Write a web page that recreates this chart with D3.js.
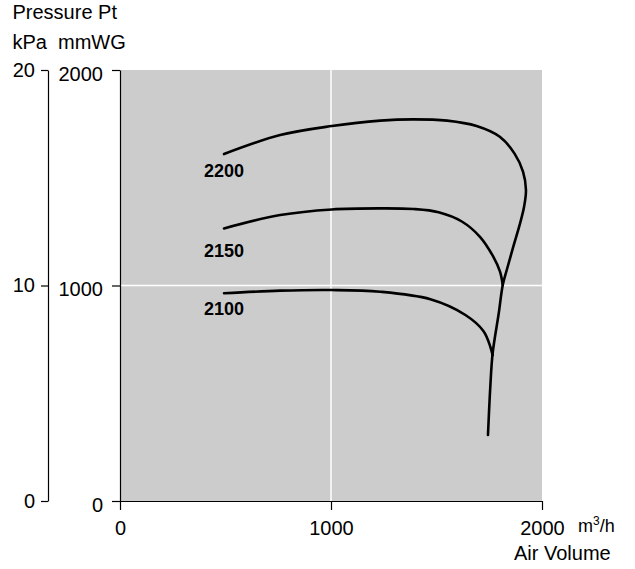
<!DOCTYPE html>
<html>
<head>
<meta charset="utf-8">
<script src="https://cdn.jsdelivr.net/npm/d3@7"></script>
<style>
  body { margin: 0; background: #fff; }
  svg { display: block; font-family: "Liberation Sans", Arial, sans-serif; }
  .axis text { font-size: 20px; fill: #000; }
  .axis path, .axis line { stroke: #000; stroke-width: 1.2; }
  .curve { fill: none; stroke: #000; stroke-width: 2.6; stroke-linejoin: round; stroke-linecap: round; }
</style>
</head>
<body>
<div id="chart"></div>
<script>
// air volume (m3/h) and pressure (mmWG)
var speeds = ["2200", "2150", "2100"];

var vol2200 = [493, 759, 1004, 1233, 1390, 1550, 1690, 1800, 1870, 1910, 1924, 1915, 1896, 1864, 1833, 1814, 1795, 1766, 1755, 1744];
var prs2200 = [1610, 1698, 1740, 1765, 1771, 1765, 1740, 1690, 1612, 1528, 1443, 1365, 1288, 1180, 1072, 1002, 871, 685, 530, 306];

var vol2150 = [493, 759, 1004, 1233, 1391, 1510, 1620, 1706, 1769, 1801, 1814];
var prs2150 = [1265, 1327, 1353, 1358, 1355, 1340, 1297, 1226, 1134, 1064, 1002];

var vol2100 = [493, 759, 1004, 1233, 1471, 1637, 1723, 1755, 1766];
var prs2100 = [964, 976, 979, 971, 936, 863, 788, 716, 677];

var xTicks   = [0, 1000, 2000];
var mmTicks  = [0, 1000, 2000];
var kpaTicks = [0, 10, 20];

var W = 635, H = 569;
var m = {left: 120, right: 542, top: 70, bottom: 501};

var svg = d3.select("#chart").append("svg").attr("width", W).attr("height", H);

var x   = d3.scaleLinear().domain([0, 2000]).range([m.left, m.right]);
var y   = d3.scaleLinear().domain([0, 2000]).range([m.bottom, m.top]);
var kpa = d3.scaleLinear().domain([0, 20]).range([m.bottom, m.top]);

// grey plot area + white grid
svg.append("rect").attr("x", m.left).attr("y", m.top)
  .attr("width", m.right - m.left).attr("height", m.bottom - m.top).attr("fill", "#cccccc");

svg.append("line").attr("x1", x(1000)).attr("x2", x(1000)).attr("y1", m.top).attr("y2", m.bottom)
  .attr("stroke", "#fff").attr("stroke-width", 1.5);
svg.append("line").attr("x1", m.left).attr("x2", m.right).attr("y1", y(1000)).attr("y2", y(1000))
  .attr("stroke", "#fff").attr("stroke-width", 1.5);

// axes
var fmt = d3.format("d");
var axisX = d3.axisBottom(x).tickValues(xTicks).tickFormat(fmt).tickSizeInner(9).tickSizeOuter(0).tickPadding(11);
svg.append("g").attr("class", "axis").attr("transform", "translate(0," + m.bottom + ")").call(axisX);

var axisMm = d3.axisLeft(y).tickValues(mmTicks).tickFormat(fmt).tickSizeInner(8).tickSizeOuter(0).tickPadding(9);
var gMm = svg.append("g").attr("class", "axis").attr("transform", "translate(" + m.left + ",0)").call(axisMm);
gMm.selectAll("text").attr("dy", "0.5em");

var axisKpa = d3.axisLeft(kpa).tickValues(kpaTicks).tickFormat(fmt).tickSizeInner(7).tickSizeOuter(0).tickPadding(6);
svg.append("g").attr("class", "axis").attr("transform", "translate(48,0)").call(axisKpa);

svg.selectAll(".axis").attr("font-family", null).attr("font-size", null);

// curves
var line = d3.line()
  .x(function(d) { return x(d[0]); })
  .y(function(d) { return y(d[1]); })
  .curve(d3.curveCatmullRom.alpha(0.5));

var curves = [
  d3.zip(vol2200, prs2200),
  d3.zip(vol2150, prs2150),
  d3.zip(vol2100, prs2100)
];
svg.selectAll(".curve").data(curves).enter().append("path")
  .attr("class", "curve").attr("d", line);

// curve labels
var labelY = [1503, 1132, 863];
svg.selectAll(".clabel").data(speeds).enter().append("text")
  .attr("class", "clabel")
  .attr("x", x(398))
  .attr("y", function(d, i) { return y(labelY[i]); })
  .attr("font-size", 18).attr("font-weight", "bold")
  .text(function(d) { return d; });

// titles
svg.append("text").attr("x", 12.5).attr("y", 19).attr("font-size", 20).text("Pressure Pt");
svg.append("text").attr("x", 12.5).attr("y", 49).attr("font-size", 20).text("kPa");
svg.append("text").attr("x", 58).attr("y", 49).attr("font-size", 20).text("mmWG");

var unit = svg.append("text").attr("x", 578).attr("y", 532).attr("font-size", 18);
unit.append("tspan").text("m");
unit.append("tspan").attr("font-size", 12).attr("dy", -7).text("3");
unit.append("tspan").attr("dy", 7).text("/h");

svg.append("text").attr("x", 514).attr("y", 560).attr("font-size", 20).text("Air Volume");
</script>
</body>
</html>
